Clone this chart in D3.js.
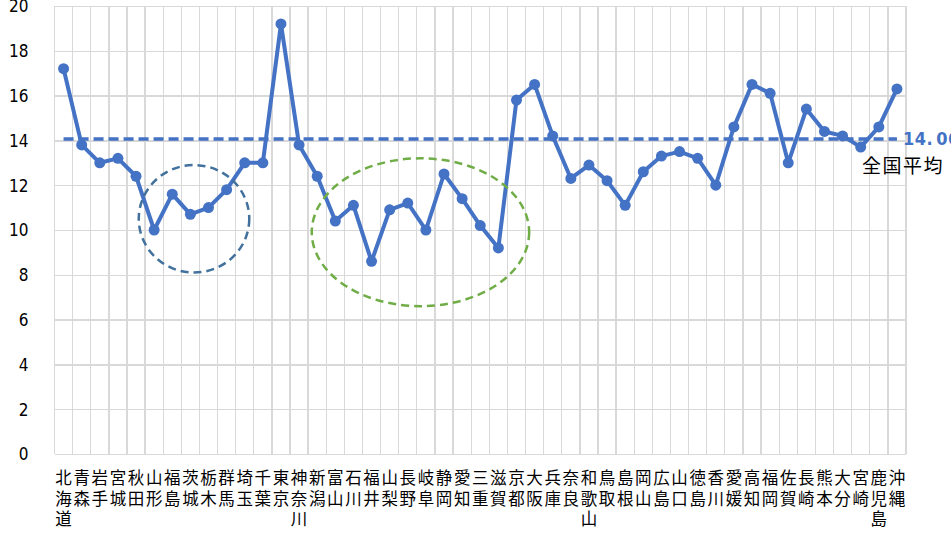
<!DOCTYPE html>
<meta charset="utf-8">
<style>
  body { margin: 0; background: #fff; }
  .grid line { stroke: #d9d9d9; stroke-width: 1.3px; shape-rendering: crispEdges; }
  .grid path { stroke-width: 0; }
  .ytick text { font-family: "Liberation Sans Narrow", "DejaVu Sans Condensed", sans-serif; font-size: 17px; fill: #000; }
  .xlab { font-family: "Noto Sans CJK JP", sans-serif; font-size: 16.5px; fill: #000; }
</style>
<body>
<script src="https://d3js.org/d3.v7.js"></script>
<div id="chart"></div>
<script>

// prefectures, north to south
var prefectures = ["北海道","青森","岩手","宮城","秋田","山形","福島","茨城","栃木","群馬",
  "埼玉","千葉","東京","神奈川","新潟","富山","石川","福井","山梨","長野",
  "岐阜","静岡","愛知","三重","滋賀","京都","大阪","兵庫","奈良","和歌山",
  "鳥取","島根","岡山","広島","山口","徳島","香川","愛媛","高知","福岡",
  "佐賀","長崎","熊本","大分","宮崎","鹿児島","沖縄"];

var values = [17.2, 13.8, 13.0, 13.2, 12.4, 10.0, 11.6, 10.7, 11.0, 11.8,
  13.0, 13.0, 19.2, 13.8, 12.4, 10.4, 11.1, 8.6, 10.9, 11.2,
  10.0, 12.5, 11.4, 10.2, 9.2, 15.8, 16.5, 14.2, 12.3, 12.9,
  12.2, 11.1, 12.6, 13.3, 13.5, 13.2, 12.0, 14.6, 16.5, 16.1,
  13.0, 15.4, 14.4, 14.2, 13.7, 14.6, 16.3];

var nationalAvg = 14.06;
var yTicks = [0, 2, 4, 6, 8, 10, 12, 14, 16, 18, 20];

// dashed rings: centre (category index, value), radius (categories, value units)
var rings = [
  {cx: 7.2, cy: 10.5, rx: 3.05, ry: 2.4, color: "#41719c"},
  {cx: 19.7, cy: 9.9, rx: 6.0, ry: 3.3, color: "#70ad47"}
];

var margin = {top: 6, right: 45, bottom: 80, left: 54.5},
    width = 951 - margin.left - margin.right,
    height = 534 - margin.top - margin.bottom;

var svg = d3.select("#chart").append("svg")
    .attr("width", 951)
    .attr("height", 534)
  .append("g")
    .attr("transform", "translate(" + margin.left + "," + margin.top + ")");

var x = d3.scaleBand().domain(prefectures).range([0, width]).padding(0);
var y = d3.scaleLinear().domain([0, 20]).range([height, 0]);
var bw = x.bandwidth();
var xc = function(i) { return x(prefectures[0]) + bw * (i + 0.5); };

// horizontal gridlines + tick labels
var gy = svg.append("g")
    .attr("class", "grid ytick")
    .call(d3.axisLeft(y).tickValues(yTicks).tickSize(-width).tickPadding(26).tickFormat(d3.format("d")));
gy.selectAll("text").attr("dy", "0.35em");

// vertical gridlines at category boundaries
svg.append("g").attr("class", "grid")
  .selectAll("line")
  .data(prefectures.concat(["_end"]))
  .enter().append("line")
    .attr("x1", function(d) { return d === "_end" ? width : x(d); })
    .attr("x2", function(d) { return d === "_end" ? width : x(d); })
    .attr("y1", 0)
    .attr("y2", height);

// category labels, one character per line
var lab = svg.append("g");
prefectures.forEach(function(p) {
  p.split("").forEach(function(ch, k) {
    lab.append("text")
      .attr("class", "xlab")
      .attr("text-anchor", "middle")
      .attr("x", x(p) + bw / 2)
      .attr("y", height + 30 + k * 20.5)
      .text(ch);
  });
});

// national average
svg.append("line")
    .attr("x1", x(prefectures[0]) + bw / 2)
    .attr("x2", x(prefectures[prefectures.length - 1]) + bw / 2)
    .attr("y1", y(nationalAvg))
    .attr("y2", y(nationalAvg))
    .attr("stroke", "#4472c4")
    .attr("stroke-width", 3.5)
    .attr("stroke-dasharray", "10,5");

var avgText = nationalAvg.toFixed(2).split(".");
var avgLabel = svg.append("text")
    .attr("x", width - 3)
    .attr("y", y(nationalAvg))
    .attr("dy", "0.35em")
    .attr("font-family", "Liberation Sans Narrow, DejaVu Sans Condensed, sans-serif")
    .attr("font-size", "18px")
    .attr("font-weight", "bold")
    .attr("letter-spacing", "0.5px")
    .attr("fill", "#4472c4");
avgLabel.append("tspan").text(avgText[0] + ".");
avgLabel.append("tspan").attr("dx", 3).text(avgText[1]);

svg.append("text")
    .attr("x", width - 44)
    .attr("y", y(nationalAvg) + 27)
    .attr("dy", "0.35em")
    .attr("font-family", "Noto Sans CJK JP, sans-serif")
    .attr("font-size", "19px")
    .attr("letter-spacing", "1.5px")
    .attr("fill", "#000")
    .text("全国平均");

// the line
var line = d3.line()
    .x(function(d, i) { return xc(i); })
    .y(function(d) { return y(d); });

svg.append("path")
    .datum(values)
    .attr("fill", "none")
    .attr("stroke", "#4472c4")
    .attr("stroke-width", 4)
    .attr("stroke-linejoin", "round")
    .attr("d", line);

svg.append("g")
  .selectAll("circle")
  .data(values)
  .enter().append("circle")
    .attr("cx", function(d, i) { return xc(i); })
    .attr("cy", function(d) { return y(d); })
    .attr("r", 5.5)
    .attr("fill", "#4472c4");

// dashed rings
svg.append("g")
  .selectAll("ellipse")
  .data(rings)
  .enter().append("ellipse")
    .attr("cx", function(d) { return xc(d.cx); })
    .attr("cy", function(d) { return y(d.cy); })
    .attr("rx", function(d) { return d.rx * bw; })
    .attr("ry", function(d) { return y(0) - y(d.ry); })
    .attr("fill", "none")
    .attr("stroke", function(d) { return d.color; })
    .attr("stroke-width", 2.5)
    .attr("stroke-dasharray", "8,5");

</script>
</body>
